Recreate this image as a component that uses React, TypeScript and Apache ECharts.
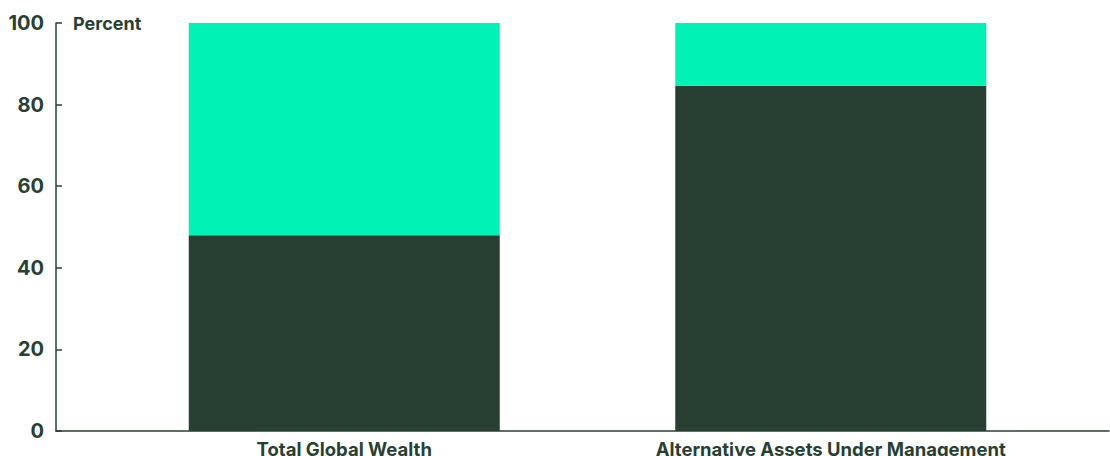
import React, { useEffect, useRef } from "react";
import * as echarts from "echarts";

const categories = ["Total Global Wealth", "Alternative Assets Under Management"];
const lowerShare = [48, 84.6];
const upperShare = [52, 15.4];
const yTicks = [0, 20, 40, 60, 80, 100];

const DARK = "#283F33";
const GREEN = "#00F2B4";
const FONT = "Inter, 'Noto Sans', sans-serif";

export default function App() {
  const ref = useRef<HTMLDivElement>(null);
  useEffect(() => {
    if (!ref.current) return;
    const chart = echarts.init(ref.current, undefined, { renderer: "svg" });
    chart.setOption({
      animation: false,
      graphic: [
        {
          type: "text",
          left: 73,
          top: 14,
          style: { text: "Percent", font: `700 18px ${FONT}`, fill: DARK },
        },
      ],
      grid: [
        { left: 101, right: 36, top: 23, bottom: 25, containLabel: false, outerBoundsMode: "none" },
        { left: 56, right: 1, top: 23, bottom: 25, containLabel: false, outerBoundsMode: "none" },
      ],
      xAxis: [
        {
          type: "category",
          gridIndex: 0,
          data: categories,
          axisLine: { show: false },
          axisTick: { show: false },
          axisLabel: { color: DARK, fontFamily: FONT, fontWeight: 700, fontSize: 18.5, margin: 8 },
        },
        {
          type: "value",
          gridIndex: 1,
          min: 0,
          max: 1,
          axisLine: { show: true, lineStyle: { color: DARK, width: 1.5 } },
          axisTick: { show: false },
          axisLabel: { show: false },
          splitLine: { show: false },
        },
      ],
      yAxis: [
        {
          type: "value",
          gridIndex: 0,
          min: 0,
          max: 100,
          show: false,
        },
        {
          type: "value",
          gridIndex: 1,
          min: 0,
          max: 100,
          interval: 20,
          axisLine: { show: true, lineStyle: { color: DARK, width: 1.5 } },
          axisTick: { show: true, inside: true, length: 6, lineStyle: { color: DARK, width: 1.5 } },
          axisLabel: {
            color: DARK,
            fontFamily: FONT,
            fontWeight: 700,
            fontSize: 20,
            margin: 12,
            formatter: (v: number) => (yTicks.includes(v) ? String(v) : ""),
          },
          splitLine: { show: false },
        },
      ],
      series: [
        {
          type: "bar",
          name: "Lower",
          stack: "total",
          xAxisIndex: 0,
          yAxisIndex: 0,
          barWidth: 311,
          data: lowerShare,
          itemStyle: { color: DARK },
        },
        {
          type: "bar",
          name: "Upper",
          stack: "total",
          xAxisIndex: 0,
          yAxisIndex: 0,
          barWidth: 311,
          data: upperShare,
          itemStyle: { color: GREEN },
        },
      ],
    });
    return () => chart.dispose();
  }, []);
  return <div ref={ref} style={{ width: 1110, height: 456, position: "absolute", left: 0, top: 0 }} />;
}
